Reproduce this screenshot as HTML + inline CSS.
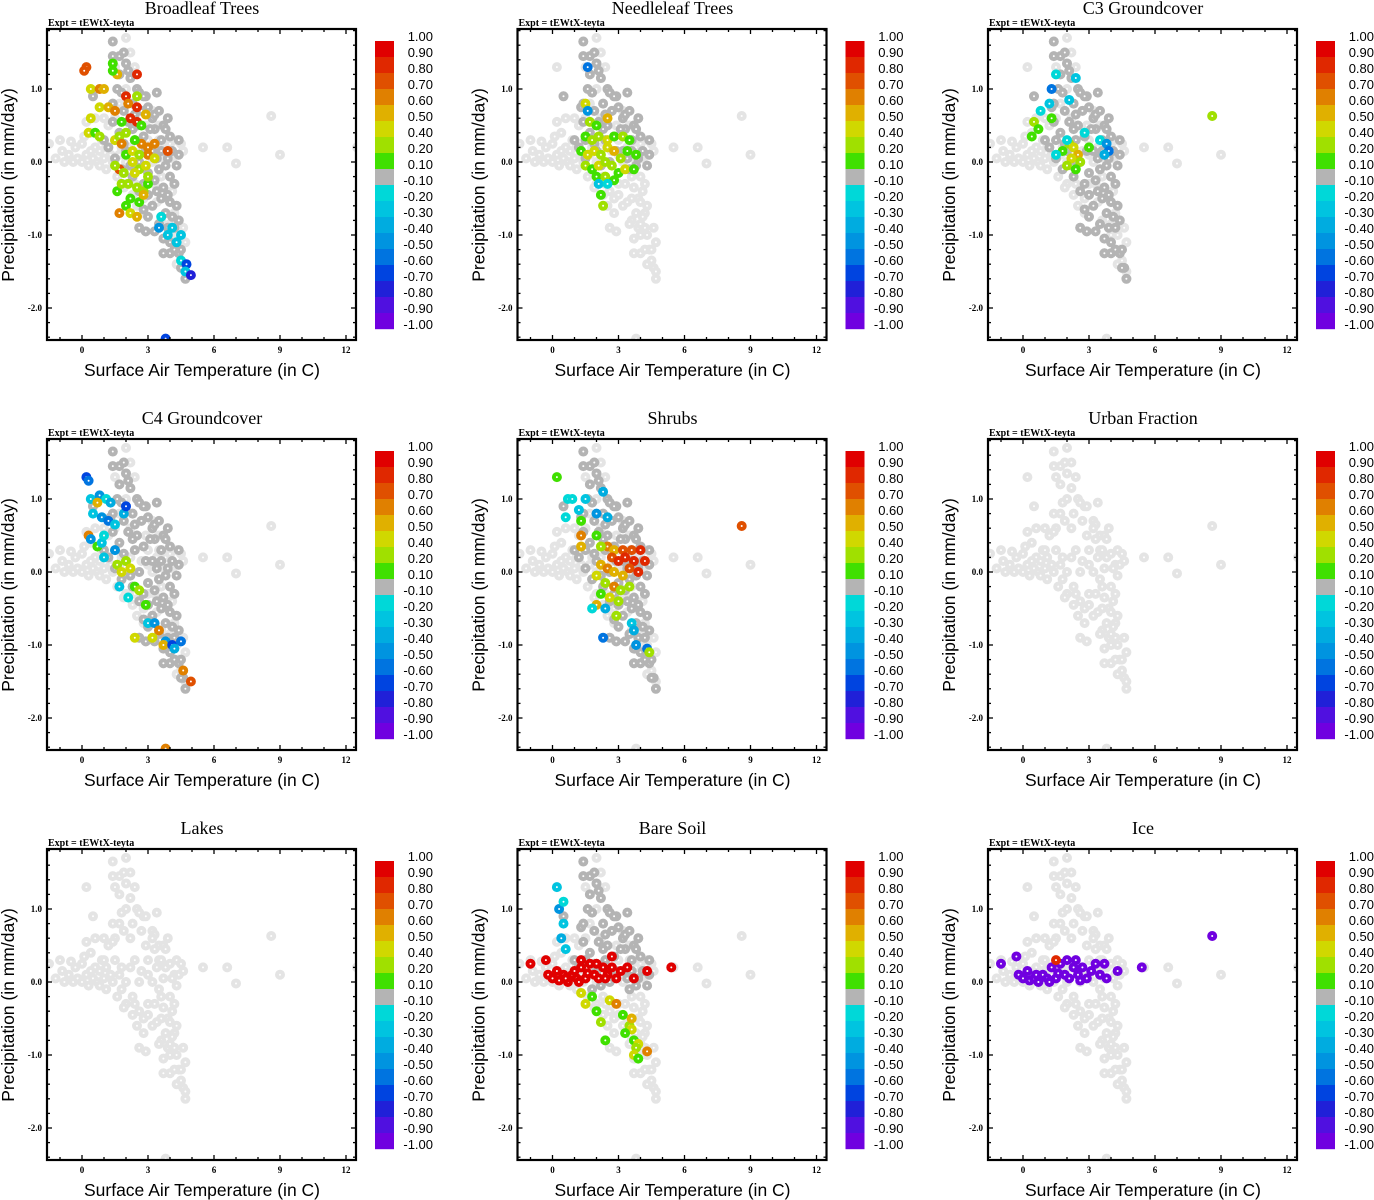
<!DOCTYPE html>
<html><head><meta charset="utf-8"><style>
html,body{margin:0;padding:0;background:#fff;}
svg{display:block;}
</style></head><body>
<svg id="chart" width="1374" height="1200" xmlns="http://www.w3.org/2000/svg"></svg>
<script>
// ---- data ----
const panelTitles = ["Broadleaf Trees","Needleleaf Trees","C3 Groundcover","C4 Groundcover","Shrubs","Urban Fraction","Lakes","Bare Soil","Ice"];
const coreModes = ["all","upper","all","all","all","none","none","upper","none"];
const xTicks = [0,3,6,9,12];
const yTicks = [1.0,0.0,-1.0,-2.0];
const yTickLabels = ["1.0","0.0","-1.0","-2.0"];
const cbLabels = ["1.00","0.90","0.80","0.70","0.60","0.50","0.40","0.20","0.10","-0.10","-0.20","-0.30","-0.40","-0.50","-0.60","-0.70","-0.80","-0.90","-1.00"];
const cbBounds = [1,0.9,0.8,0.7,0.6,0.5,0.4,0.2,0.1,-0.1,-0.2,-0.3,-0.4,-0.5,-0.6,-0.7,-0.8,-0.9,-1];
const cbColors = ["#e00000","#e02800","#e05000","#e08000","#e0b000","#d0d800","#a0e000","#40e000","#b4b4b4","#00d8d8","#00c4e0","#00ace0","#0094e0","#0074e0","#0044e0","#2020d8","#5010e0","#7000e0"];
const lightCloud = [[-1.5,0.25],[-1.2,0.05],[-1,0.3],[-0.8,0],[-0.6,0.1],[-0.4,0],[-0.3,0.2],[-0.2,0.05],[0,0],[0,0.25],[0.2,0.1],[0.3,-0.05],[0.4,0.4],[0.5,0.05],[0.6,0.2],[0.7,0],[0.8,-0.05],[0.9,0.3],[1,0.05],[1.1,-0.1],[1.2,0.5],[1.3,0.1],[1.5,0.6],[1.6,-0.2],[1.8,0.2],[2,-0.3],[2.2,0.6],[2.5,-0.6],[2.8,-0.7],[3,0.1],[3.2,0.7],[3.5,0.3],[3.7,0.05],[3.8,0.2],[4,0.25],[4.2,0.1],[4.3,0.3],[4.5,0.25],[4.6,-0.9],[4.7,-1.1],[4.3,-1.4],[4.6,-1.45],[5.5,0.2],[6.6,0.2],[7,-0.02],[8.6,0.63],[9,0.1],[12.5,0.2],[2,1.7],[2.2,1.5],[1.5,1.3],[0.2,1.3],[0.5,0.9],[1.4,0.8],[2.5,1.0],[2.8,0.9],[3.3,0.65],[3.5,0.5],[3.9,-0.5],[4.2,-0.7],[3.3,-0.3],[3.6,-0.8],[4,-1.0],[4.4,-1.2],[2.4,-0.3],[2.8,-0.5],[1.8,-0.1],[3,-0.3],[1.4,1.65],[1.4,1.45],[1.7,1.45],[1.9,1.5],[2.0,1.35],[1.7,1.2],[2.2,1.15],[2.6,0.95],[2.9,0.9],[3.4,0.95],[1.8,0.95],[2.3,0.8],[1.9,0.7],[2.7,0.7],[3.2,0.6],[3.9,0.6],[3.7,0.5],[1.4,0.55],[3.3,0.45],[3.8,0.45],[1.0,0.3],[1.5,0.3],[2.4,0.3],[3.6,0.3],[4.4,0.1],[2.6,0.0],[4.3,-0.05],[3.5,-0.1],[4.0,-0.2],[2.3,-0.2],[3.7,-0.35],[4.2,-0.3],[2.6,-0.4],[3.0,-0.45],[3.6,-0.5],[4.0,-0.55],[4.3,-0.6],[3.2,-0.6],[3.8,-0.7],[4.1,-0.75],[3.5,-0.85],[3.9,-0.9],[2.6,-0.9],[2.9,-0.95],[4.2,-0.9],[3.7,-1.05],[3.7,-1.25],[4.0,-1.25],[4.2,-1.2],[4.5,-1.2],[4.7,-1.6],[4.7,-1.5],[3.8,-2.42],[-0.9,0.15],[-0.5,0.28],[0.1,0.35],[0.4,0.15],[0.8,0.15],[1.1,0.2],[1.4,0.0],[1.7,0.1],[2.0,0.0],[2.2,0.2],[2.7,0.15],[3.2,0.0],[3.4,0.2],[4.1,0.05],[4.6,0.15],[1.0,0.6],[1.7,0.8],[2.0,1.0],[2.4,1.3],[2.9,0.5],[3.0,0.3],[3.6,-0.2],[4.1,-0.4],[3.4,-0.55],[4.0,-0.85],[4.3,-1.0],[4.5,-1.35],[2.3,-0.45],[1.9,-0.35],[0.6,0.6],[0.2,0.55]];
const coreCloud = [[1.4,1.65],[1.4,1.45],[1.7,1.45],[1.9,1.5],[2.0,1.35],[1.7,1.2],[2.2,1.15],[2.5,1.0],[2.6,0.95],[2.9,0.9],[3.4,0.95],[1.8,0.95],[2.3,0.8],[1.9,0.7],[2.7,0.7],[3.2,0.6],[3.9,0.6],[3.7,0.5],[1.4,0.55],[3.3,0.45],[3.8,0.45],[1.0,0.3],[1.5,0.3],[2.4,0.3],[3.6,0.3],[4.0,0.35],[4.4,0.3],[1.2,0.2],[2.0,0.15],[3.2,0.15],[4.1,0.15],[4.4,0.1],[1.5,0.05],[2.6,0.0],[3.9,0.05],[4.3,-0.05],[1.8,-0.1],[3.5,-0.1],[4.0,-0.2],[2.3,-0.2],[3.3,-0.25],[3.7,-0.35],[4.2,-0.3],[2.6,-0.4],[3.0,-0.45],[3.6,-0.5],[4.0,-0.55],[4.3,-0.6],[3.2,-0.6],[2.8,-0.65],[3.8,-0.7],[4.1,-0.75],[3.5,-0.85],[3.9,-0.9],[2.6,-0.9],[2.9,-0.95],[4.2,-0.9],[3.7,-1.05],[3.7,-1.25],[4.0,-1.25],[4.2,-1.2],[4.4,-1.25],[4.5,-1.2],[4.7,-1.6],[4.6,-1.45],[2.1,0.55],[2.8,0.35],[3.0,-0.15],[2.2,-0.05],[1.3,0.75],[2.5,0.5],[0.5,0.9],[1.4,0.8],[2.8,0.9],[3.3,0.65],[1.6,1.0],[2.1,1.25],[2.4,0.65],[3.0,0.75],[3.5,0.7],[1.7,0.4],[2.9,0.15],[3.4,0.05],[3.8,-0.05],[2.8,-0.3],[3.4,-0.4],[3.9,-0.45],[3.0,-0.75],[3.3,-0.95],[4.4,-0.8],[4.0,-1.1],[4.5,-1.45],[2.3,0.45],[1.9,0.25],[3.1,0.45],[3.6,0.15]];
const broadleafPts = [[0.2,1.3,0.7],[0.1,1.25,0.75],[0.4,1.0,0.4],[0.8,1.0,0.6],[1.0,1.0,0.55],[1.6,1.2,0.5],[1.4,1.35,0.15],[1.4,1.25,0.15],[2.5,1.2,0.85],[0.8,0.75,0.45],[0.4,0.6,0.4],[0.3,0.4,0.45],[0.6,0.4,0.15],[0.8,0.35,0.25],[1.2,0.75,0.5],[1.5,0.7,0.6],[2.0,0.9,0.8],[2.1,0.8,0.65],[2.5,0.75,0.8],[2.5,0.9,0.2],[2.2,0.6,0.8],[2.5,0.55,0.8],[2.9,0.65,0.5],[1.8,0.55,0.15],[2.7,0.5,0.15],[1.5,0.3,0.45],[1.7,0.35,0.3],[1.8,0.25,0.6],[2.7,0.25,0.6],[3.0,0.2,0.6],[3.3,0.25,0.6],[3.9,0.15,0.7],[3.0,0.1,0.6],[1.7,-0.1,0.7],[1.5,-0.05,0.25],[2.0,0.1,0.15],[2.3,0.0,0.4],[2.6,-0.1,0.35],[2.9,-0.05,0.45],[3.3,0.05,0.45],[2.1,-0.3,0.25],[2.5,-0.35,0.3],[2.8,-0.4,0.2],[3.0,-0.3,0.15],[2.2,-0.5,0.15],[2.6,-0.55,0.15],[2.8,-0.45,0.5],[2.0,-0.6,0.15],[1.7,-0.7,0.6],[2.2,-0.7,0.4],[2.5,-0.75,0.5],[1.6,-0.4,0.15],[1.8,-0.3,0.3],[3.0,-0.2,0.25],[2.4,0.3,0.15],[2.0,0.4,0.2],[2.3,0.15,0.45],[2.6,0.1,0.3],[1.9,-0.15,0.35],[2.4,-0.15,0.45],[3.6,-0.75,-0.2],[3.5,-0.9,-0.5],[3.9,-1.0,-0.3],[4.1,-0.9,-0.25],[4.5,-1.0,-0.25],[4.3,-1.1,-0.25],[4.5,-1.35,-0.2],[4.75,-1.4,-0.7],[4.7,-1.5,-0.25],[4.95,-1.55,-0.8],[3.8,-2.42,-0.7]];
const needleleafPts = [[1.6,1.3,-0.6],[1.5,0.8,0.4],[1.6,0.7,-0.5],[1.7,0.55,0.2],[2.5,0.6,0.5],[1.5,0.35,0.15],[1.8,0.3,0.2],[2.1,0.35,0.3],[2.5,0.3,0.4],[2.8,0.35,0.15],[3.2,0.35,0.2],[3.5,0.3,0.15],[1.3,0.15,0.15],[1.6,0.1,0.4],[1.9,0.15,0.45],[2.2,0.1,0.3],[2.5,0.2,0.4],[2.8,0.15,0.5],[3.1,0.05,0.3],[3.4,0.15,0.15],[3.8,0.1,0.15],[1.5,-0.05,0.2],[1.8,-0.1,0.15],[2.1,-0.05,0.4],[2.4,0.0,0.3],[2.7,-0.05,0.2],[3.0,-0.15,0.15],[3.3,-0.1,0.4],[3.7,-0.1,0.15],[2.0,-0.2,0.15],[2.4,-0.2,0.3],[2.8,-0.25,0.15],[2.1,-0.3,-0.3],[2.2,-0.45,0.15],[2.3,-0.6,0.2],[2.5,-0.3,-0.2],[2.0,0.5,0.15]];
const c3Pts = [[1.5,1.2,-0.2],[2.4,1.15,-0.3],[1.3,1.0,-0.6],[0.8,0.7,-0.2],[0.5,0.55,0.2],[0.7,0.45,0.15],[0.4,0.35,0.15],[1.2,0.8,-0.25],[2.1,0.85,-0.3],[1.3,0.6,0.15],[2.8,0.4,-0.2],[3.5,0.3,-0.2],[3.8,0.25,-0.5],[3.9,0.15,-0.6],[3.7,0.1,-0.4],[2.1,0.25,0.2],[2.3,0.2,0.4],[2.5,0.1,0.5],[2.2,0.05,0.45],[2.6,0.0,0.35],[2.0,-0.05,0.2],[2.4,-0.1,0.15],[1.8,0.15,0.15],[3.0,0.2,0.15],[8.6,0.63,0.2],[2.0,0.3,-0.2],[1.5,0.1,-0.2]];
const c4Pts = [[0.2,1.3,-0.7],[0.3,1.25,-0.6],[0.4,1.0,-0.3],[0.8,1.05,-0.5],[1.1,1.0,-0.2],[0.7,0.95,0.5],[1.3,0.95,-0.4],[0.5,0.8,-0.3],[0.9,0.75,-0.5],[1.2,0.7,-0.6],[1.5,0.65,-0.3],[0.3,0.5,0.6],[0.4,0.45,-0.5],[0.7,0.35,0.15],[0.9,0.4,-0.3],[1.0,0.5,-0.2],[1.9,0.8,-0.4],[2.0,0.9,-0.7],[1.5,0.3,-0.5],[1.6,0.1,0.3],[1.8,0.0,0.45],[2.0,0.15,0.2],[2.2,0.05,0.4],[1.7,-0.2,-0.3],[2.1,-0.35,-0.2],[2.4,-0.2,0.15],[2.6,-0.25,0.2],[2.9,-0.45,0.15],[3.0,-0.7,-0.3],[3.3,-0.7,-0.5],[3.5,-0.8,0.6],[3.2,-0.9,0.45],[2.4,-0.9,0.45],[3.8,-0.95,-0.5],[3.7,-1.0,0.5],[4.1,-1.0,-0.7],[4.5,-0.95,-0.6],[4.2,-1.05,-0.4],[4.6,-1.35,0.65],[4.95,-1.5,0.75],[3.8,-2.42,0.6],[1.0,0.2,-0.3]];
const shrubPts = [[0.2,1.3,0.15],[0.7,1.0,-0.2],[0.9,1.0,-0.2],[1.5,1.0,-0.3],[2.3,1.1,-0.4],[1.2,0.85,-0.3],[0.6,0.75,-0.2],[1.3,0.7,0.15],[2.0,0.8,-0.5],[2.5,0.75,-0.4],[1.3,0.5,0.6],[2.0,0.5,0.15],[2.5,0.35,0.6],[2.8,0.3,0.5],[3.2,0.3,0.7],[3.6,0.3,0.75],[4.0,0.3,0.8],[2.7,0.2,0.75],[3.0,0.15,0.8],[3.3,0.2,0.85],[3.7,0.15,0.85],[4.2,0.15,0.8],[3.5,0.05,0.75],[3.9,0.0,0.8],[2.2,0.1,0.5],[2.5,0.05,0.6],[2.8,0.0,0.55],[3.2,-0.05,0.5],[2.0,-0.05,0.45],[2.4,-0.15,0.35],[2.8,-0.2,0.6],[3.1,-0.25,0.3],[3.5,-0.2,0.2],[2.2,-0.3,0.15],[2.6,-0.35,0.4],[3.0,-0.4,0.2],[2.0,-0.45,0.5],[1.8,-0.5,-0.2],[2.4,-0.5,-0.4],[2.9,-0.6,0.2],[3.6,-0.7,-0.3],[3.7,-0.8,-0.4],[2.3,-0.9,-0.6],[3.8,-1.0,-0.5],[4.3,-1.05,-0.6],[4.4,-1.1,0.2],[8.6,0.63,0.7],[1.3,0.35,0.5],[2.2,0.35,0.3]];
const urbanPts = [];
const lakePts = [];
const bareSoilPts = [[-1.0,0.25,0.95],[-0.3,0.3,0.95],[-0.2,0.1,0.95],[0,0.05,0.95],[0.3,0.02,0.95],[0.5,0.1,0.95],[0.7,0,0.95],[0.9,0.1,0.95],[1.1,0.05,0.95],[1.3,0.2,0.95],[1.5,0.05,0.95],[1.7,0.25,0.95],[1.9,0.1,0.95],[2.1,0.05,0.95],[2.3,0.2,0.95],[2.5,0.1,0.95],[2.7,0.2,0.95],[2.9,0.05,0.95],[3.1,0.15,0.95],[3.4,0.2,0.95],[3.7,0.05,0.95],[4.3,0.15,0.95],[5.4,0.2,0.95],[1.3,0.3,0.95],[2.7,0.35,0.95],[0.2,0.15,0.95],[1.2,0.0,0.95],[2.0,0.25,0.95],[0.6,0.05,0.95],[1.0,0.15,0.95],[1.6,0.12,0.95],[2.4,0.05,0.95],[0.2,1.3,-0.3],[0.3,1.0,-0.5],[0.5,0.8,-0.3],[0.4,0.6,-0.4],[0.6,0.45,-0.3],[0.5,1.1,-0.2],[1.5,-0.3,0.4],[1.3,-0.15,0.45],[1.8,-0.2,0.15],[2.0,-0.4,0.15],[2.6,-0.25,0.45],[2.9,-0.3,0.6],[3.2,-0.45,0.15],[3.5,-0.6,0.3],[3.6,-0.65,0.45],[3.7,-0.8,0.15],[3.9,-0.85,0.4],[4.3,-0.95,0.6],[3.8,-0.9,0.2],[3.7,-1.0,0.4],[3.9,-1.05,0.15],[3.6,-0.5,0.5],[2.4,-0.8,0.15],[3.3,-0.7,0.15],[2.2,-0.55,0.2]];
const icePts = [[-1,0.25,-0.95],[-0.3,0.35,-0.95],[-0.2,0.1,-0.95],[0.0,0.05,-0.95],[0.3,0.02,-0.95],[0.5,0.05,-0.95],[0.7,0.0,-0.95],[0.9,0.1,-0.95],[1.1,0.05,-0.95],[1.3,0.2,-0.95],[1.5,0.05,-0.95],[1.7,0.25,-0.95],[1.9,0.1,-0.95],[2.1,0.05,-0.95],[2.3,0.2,-0.95],[2.5,0.1,-0.95],[2.7,0.2,-0.95],[2.9,0.05,-0.95],[3.1,0.15,-0.95],[3.3,0.25,-0.95],[3.5,0.1,-0.95],[3.8,0.05,-0.95],[3.7,0.25,-0.95],[4.3,0.15,-0.95],[5.4,0.2,-0.95],[8.6,0.63,-0.95],[1.5,0.3,0.85],[2.4,0.3,-0.95],[0.2,0.15,-0.95],[1.2,0.0,-0.95],[2.0,0.3,-0.95],[0.6,0.1,-0.95],[1.6,0.12,-0.95],[2.6,0.02,-0.95]];
const panelPts = [broadleafPts,needleleafPts,c3Pts,c4Pts,shrubPts,urbanPts,lakePts,bareSoilPts,icePts];

// ---- rendering ----
const NS = "http://www.w3.org/2000/svg";
const svg = document.getElementById("chart");
function mk(tag, attrs, parent){ const e=document.createElementNS(NS,tag); for(const k in attrs) e.setAttribute(k,attrs[k]); (parent||svg).appendChild(e); return e; }
const PX0=47, PX1=356, PY0=29, PY1=340;
const xScale = t => 82 + (t-0)*22;
const yScale = p => 162 - p*73;
function colorFor(v){ for(let i=0;i<cbColors.length;i++){ if(v>=cbBounds[i+1]) return cbColors[i]; } return cbColors[cbColors.length-1]; }
const serif='"Liberation Serif", serif', sans='"Liberation Sans", sans-serif';

panelTitles.forEach((title, idx) => {
  const ox = (idx%3)*470.5, oy = Math.floor(idx/3)*410;
  const g = mk("g",{transform:`translate(${ox},${oy})`});
  
  
  const t = mk("text",{x:202,y:14,"text-anchor":"middle","font-family":serif,"font-size":18},g); t.textContent=title;
  
  
  const ex = mk("text",{x:48,y:26,"font-family":serif,"font-size":10,"font-weight":"bold"},g); ex.textContent="Expt = tEWtX-teyta";
  
  
  const cp = mk("clipPath",{id:"clip"+idx},g); mk("rect",{x:PX0,y:PY0,width:PX1-PX0,height:PY1-PY0},cp);
  const pts = mk("g",{"clip-path":`url(#clip${idx})`},g);
  
  
  function dot(tv,pv,col){
    const c = mk("circle",{cx:xScale(tv),cy:yScale(pv),r:3,fill:"#fff",stroke:col,"stroke-width":4},pts);
    
    
  }
  lightCloud.forEach(p=>dot(p[0],p[1],"#e4e4e4"));
  const mode = coreModes[idx];
  if(mode!=="none") coreCloud.forEach(p=>{ if(mode==="all" || p[1]>-0.15) dot(p[0],p[1],"#b4b4b4"); });
  panelPts[idx].forEach(p=>dot(p[0],p[1],colorFor(p[2])));
  const fr = mk("rect",{x:PX0,y:PY0,width:PX1-PX0,height:PY1-PY0,fill:"none",stroke:"#000","stroke-width":2.2},g);
  
  
  for(let v=-1; v<=12; v++){ const x=xScale(v); const L=(v%3===0)?5:3;
    mk("line",{x1:x,x2:x,y1:PY1,y2:PY1-L,stroke:"#000","stroke-width":1.3},g);
    mk("line",{x1:x,x2:x,y1:PY0,y2:PY0+L,stroke:"#000","stroke-width":1.3},g); }
  xTicks.forEach(v=>{ const tx=mk("text",{x:xScale(v),y:353,"text-anchor":"middle","font-family":serif,"font-size":9,"font-weight":"bold"},g); tx.textContent=String(v);
    
     });
  for(let k=-12;k<=9;k++){ const v=k*0.2; const y=yScale(v); if(y<PY0+1||y>PY1-1) continue; const L=(k%5===0)?5:3;
    mk("line",{x1:PX0,x2:PX0+L,y1:y,y2:y,stroke:"#000","stroke-width":1.3},g);
    mk("line",{x1:PX1,x2:PX1-L,y1:y,y2:y,stroke:"#000","stroke-width":1.3},g); }
  yTicks.forEach((v,i)=>{ const ty=mk("text",{x:42,y:yScale(v)+3,"text-anchor":"end","font-family":serif,"font-size":9,"font-weight":"bold"},g); ty.textContent=yTickLabels[i];
    
     });
  const xl = mk("text",{x:202,y:376,"text-anchor":"middle","font-family":sans,"font-size":17.5},g); xl.textContent="Surface Air Temperature (in C)";
  
  
  const yl = mk("text",{x:0,y:0,"text-anchor":"middle","font-family":sans,"font-size":17.5,transform:"translate(14,185) rotate(-90)"},g); yl.textContent="Precipitation (in mm/day)";
  
  
  const cb = mk("g",{},g);
  
  
  cbColors.forEach((c,i)=>{ const r=mk("rect",{x:375,y:41+i*16,width:19,height:16.2,fill:c},cb);
    
     });
  cbLabels.forEach((s,i)=>{ const tl=mk("text",{x:433,y:41+i*16,"text-anchor":"end","font-family":sans,"font-size":13},cb); tl.textContent=s;
    
     });
});
</script>
</body></html>
